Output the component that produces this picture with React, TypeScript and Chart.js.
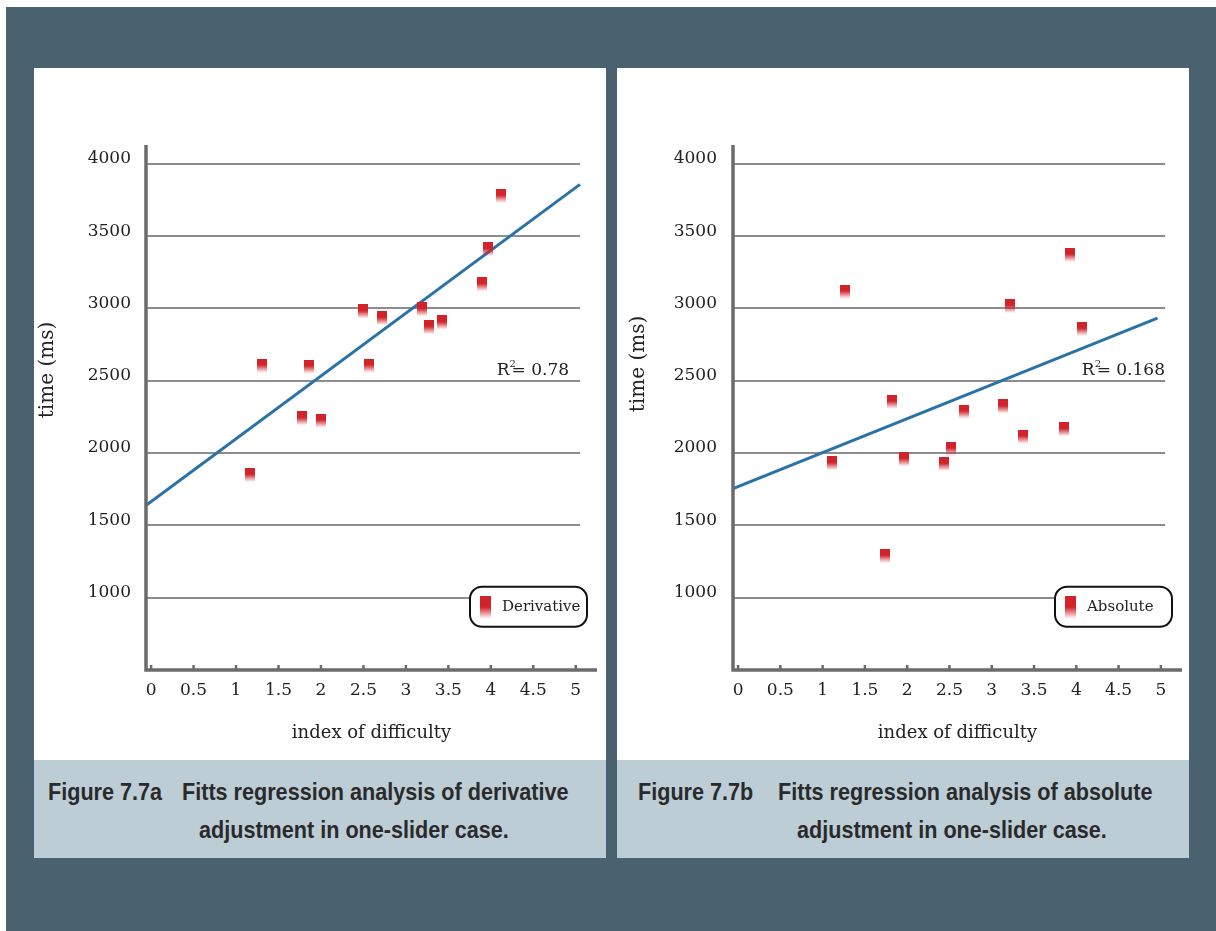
import React, { useEffect, useRef } from "react";
import { Chart, registerables } from "chart.js";

Chart.register(...registerables);

// ---------- data ----------
const xTickValues = [0, 0.5, 1, 1.5, 2, 2.5, 3, 3.5, 4, 4.5, 5];
const yTickValues = [1000, 1500, 2000, 2500, 3000, 3500, 4000];

const derivativeX = [1.16, 1.31, 1.78, 1.86, 2.0, 2.49, 2.57, 2.72, 3.19, 3.27, 3.42, 3.9, 3.97, 4.12];
const derivativeY = [1849, 2605, 2241, 2598, 2225, 2979, 2605, 2933, 2995, 2871, 2903, 3168, 3410, 3779];
const derivativeFitX = [-0.05, 5.05];
const derivativeFitY = [1642, 3858];
const derivativeR2 = "0.78";

const absoluteX = [1.11, 1.26, 1.74, 1.82, 1.96, 2.43, 2.52, 2.67, 3.13, 3.22, 3.37, 3.85, 3.92, 4.07];
const absoluteY = [1930, 3117, 1289, 2356, 1958, 1925, 2031, 2287, 2322, 3018, 2114, 2165, 3371, 2859];
const absoluteFitX = [-0.07, 4.96];
const absoluteFitY = [1752, 2933];
const absoluteR2 = "0.168";

const SERIF = '"DejaVu Serif", "Liberation Serif", serif';
const RED = "#d2232a";
const BLUE = "#2b72a6";

function makeMarker(w: number, h: number, solid: number): HTMLCanvasElement {
  const c = document.createElement("canvas");
  c.width = w;
  c.height = h;
  const g = c.getContext("2d")!;
  const grad = g.createLinearGradient(0, 0, 0, h);
  grad.addColorStop(0, RED);
  grad.addColorStop(solid, RED);
  grad.addColorStop(1, "rgba(210,35,42,0)");
  g.fillStyle = grad;
  g.fillRect(0, 0, w, h);
  return c;
}

const framePlugin = {
  id: "frame",
  beforeDatasetsDraw(chart: any, _args: any, opts: any) {
    const { ctx, chartArea, scales } = chart;
    const x = scales.x;
    const y = scales.y;
    ctx.save();
    ctx.strokeStyle = "#8d8d8d";
    ctx.lineWidth = 2;
    const gx1 = x.getPixelForValue(opts.gridEnd);
    for (const v of yTickValues) {
      const py = Math.round(y.getPixelForValue(v));
      ctx.beginPath();
      ctx.moveTo(chartArea.left, py);
      ctx.lineTo(gx1, py);
      ctx.stroke();
    }
    ctx.restore();
  },
  afterDatasetsDraw(chart: any, _args: any, opts: any) {
    const { ctx, chartArea, scales } = chart;
    const x = scales.x;
    const y = scales.y;
    ctx.save();
    // axes
    ctx.strokeStyle = "#6b6b6b";
    ctx.lineWidth = 3.5;
    ctx.beginPath();
    ctx.moveTo(chartArea.left, chartArea.top);
    ctx.lineTo(chartArea.left, chartArea.bottom + 1.75);
    ctx.moveTo(chartArea.left - 1.75, chartArea.bottom);
    ctx.lineTo(chartArea.right, chartArea.bottom);
    ctx.stroke();
    ctx.lineWidth = 2.5;
    for (const v of xTickValues) {
      const px = x.getPixelForValue(v);
      ctx.beginPath();
      ctx.moveTo(px, chartArea.bottom);
      ctx.lineTo(px, chartArea.bottom - 5);
      ctx.stroke();
    }
    // R^2 label
    const rx = x.getPixelForValue(5) - 79;
    const ry = y.getPixelForValue(2500) - 6;
    ctx.fillStyle = "#222";
    ctx.textBaseline = "alphabetic";
    ctx.textAlign = "left";
    ctx.font = `17px ${SERIF}`;
    ctx.fillText("R", rx, ry);
    const rw = ctx.measureText("R").width;
    ctx.font = `10px ${SERIF}`;
    ctx.fillText("2", rx + rw, ry - 8);
    ctx.font = `17px ${SERIF}`;
    ctx.fillText("= " + opts.r2, rx + rw + 2, ry);
    // y axis title
    ctx.save();
    ctx.translate(opts.yTitleX, opts.yTitleY);
    ctx.rotate(-Math.PI / 2);
    ctx.textAlign = "center";
    ctx.textBaseline = "middle";
    ctx.font = `20px ${SERIF}`;
    ctx.fillText("time (ms)", 0, 0);
    ctx.restore();
    // legend box
    const ds = chart.data.datasets[0];
    const bw = 117;
    const bh = 40;
    const bx = chartArea.right - 10 - bw;
    const by = y.getPixelForValue(1000) - 11;
    ctx.beginPath();
    ctx.roundRect(bx, by, bw, bh, 12);
    ctx.fillStyle = "#fff";
    ctx.fill();
    ctx.strokeStyle = "#111";
    ctx.lineWidth = 2;
    ctx.stroke();
    ctx.drawImage(opts.legendMarker, bx + 10, by + 9);
    ctx.fillStyle = "#222";
    ctx.font = `15px ${SERIF}`;
    ctx.textAlign = "left";
    ctx.textBaseline = "middle";
    ctx.fillText(ds.label, bx + 32, by + 20);
    ctx.restore();
  },
};

type ChartProps = {
  xs: number[];
  ys: number[];
  fitX: number[];
  fitY: number[];
  label: string;
  r2: string;
  yAxisWidth: number;
  padRight: number;
  yTickPadding: number;
  yTitleX: number;
  yTitleY: number;
};

function FittsChart(p: ChartProps) {
  const ref = useRef<HTMLCanvasElement>(null);
  useEffect(() => {
    const marker = makeMarker(10, 14, 0.45);
    const legendMarker = makeMarker(11, 23, 0.5);
    const chart = new Chart(ref.current!, {
      type: "scatter",
      data: {
        datasets: [
          {
            label: p.label,
            data: p.xs.map((x, i) => ({ x, y: p.ys[i] })),
            pointStyle: marker as any,
            pointRadius: 6,
            backgroundColor: RED,
            borderColor: RED,
          },
          {
            type: "line",
            label: "fit",
            data: p.fitX.map((x, i) => ({ x, y: p.fitY[i] })),
            borderColor: BLUE,
            borderWidth: 3,
            pointRadius: 0,
            showLine: true,
            fill: false,
          } as any,
        ],
      },
      options: {
        animation: false,
        responsive: true,
        maintainAspectRatio: false,
        layout: { padding: { top: 77, right: p.padRight, bottom: 0, left: 0 } },
        plugins: {
          legend: { display: false },
          tooltip: { enabled: false },
          frame: {
            gridEnd: 5.05,
            r2: p.r2,
            yTitleX: p.yTitleX,
            yTitleY: p.yTitleY,
            legendMarker,
          },
        } as any,
        scales: {
          x: {
            type: "linear",
            min: -0.06,
            max: 5.25,
            grid: { display: false, drawTicks: false },
            border: { display: false },
            afterBuildTicks: (s: any) => {
              s.ticks = xTickValues.map((v) => ({ value: v }));
            },
            afterFit: (s: any) => {
              s.height = 90;
            },
            ticks: {
              autoSkip: false,
              maxRotation: 0,
              padding: 10,
              color: "#222",
              font: { family: SERIF, size: 17 },
              callback: (v: any) => String(v),
            },
            title: {
              display: true,
              text: "index of difficulty",
              color: "#222",
              font: { family: SERIF, size: 18 },
              padding: { top: 0, bottom: 16 },
            },
          },
          y: {
            type: "linear",
            min: 500,
            max: 4130,
            grid: { display: false, drawTicks: false },
            border: { display: false },
            afterBuildTicks: (s: any) => {
              s.ticks = yTickValues.map((v) => ({ value: v }));
            },
            afterFit: (s: any) => {
              s.width = p.yAxisWidth;
            },
            ticks: {
              padding: p.yTickPadding,
              labelOffset: -5,
              color: "#222",
              font: { family: SERIF, size: 17 },
              callback: (v: any) => String(v),
            },
          },
        },
      },
      plugins: [framePlugin as any],
    });
    return () => chart.destroy();
  }, []);
  return (
    <div style={{ position: "relative", width: 572, height: 692 }}>
      <canvas ref={ref} />
    </div>
  );
}

const CAPTION_FONT = '"Liberation Sans", "Noto Sans", sans-serif';

function Caption(props: { left: number; fig: string; figX: number; line1: string; line1X: number; line2: string; line2X: number }) {
  const base: React.CSSProperties = {
    position: "absolute",
    whiteSpace: "nowrap",
    fontFamily: CAPTION_FONT,
    fontWeight: 700,
    fontSize: 24,
    lineHeight: "30px",
    color: "#2a2a2a",
    transform: "scaleX(0.9)",
    transformOrigin: "left center",
  };
  return (
    <div style={{ position: "absolute", left: props.left, top: 760, width: 572, height: 98, background: "#bccdd6" }}>
      <span style={{ ...base, left: props.figX - props.left, top: 17 }}>{props.fig}</span>
      <span style={{ ...base, left: props.line1X - props.left, top: 17 }}>{props.line1}</span>
      <span style={{ ...base, left: props.line2X - props.left, top: 55 }}>{props.line2}</span>
    </div>
  );
}

export default function App() {
  useEffect(() => {
    document.body.style.margin = "0";
  }, []);
  return (
    <div style={{ position: "relative", width: 1216, height: 931, background: "#fff", overflow: "hidden" }}>
      <div style={{ position: "absolute", left: 6, top: 7, width: 1210, height: 924, background: "#4a6270" }} />
      <div style={{ position: "absolute", left: 34, top: 68, width: 572, height: 692, background: "#fff" }}>
        <FittsChart
          xs={derivativeX}
          ys={derivativeY}
          fitX={derivativeFitX}
          fitY={derivativeFitY}
          label="Derivative"
          r2={derivativeR2}
          yAxisWidth={112}
          padRight={9}
          yTickPadding={15}
          yTitleX={14}
          yTitleY={302}
        />
      </div>
      <div style={{ position: "absolute", left: 617, top: 68, width: 572, height: 692, background: "#fff" }}>
        <FittsChart
          xs={absoluteX}
          ys={absoluteY}
          fitX={absoluteFitX}
          fitY={absoluteFitY}
          label="Absolute"
          r2={absoluteR2}
          yAxisWidth={116}
          padRight={6}
          yTickPadding={16}
          yTitleX={22}
          yTitleY={296}
        />
      </div>
      <Caption
        left={34}
        fig="Figure 7.7a"
        figX={48}
        line1="Fitts regression analysis of derivative"
        line1X={182}
        line2="adjustment in one-slider case."
        line2X={199}
      />
      <Caption
        left={617}
        fig="Figure 7.7b"
        figX={638}
        line1="Fitts regression analysis of absolute"
        line1X={778}
        line2="adjustment in one-slider case."
        line2X={797}
      />
    </div>
  );
}
